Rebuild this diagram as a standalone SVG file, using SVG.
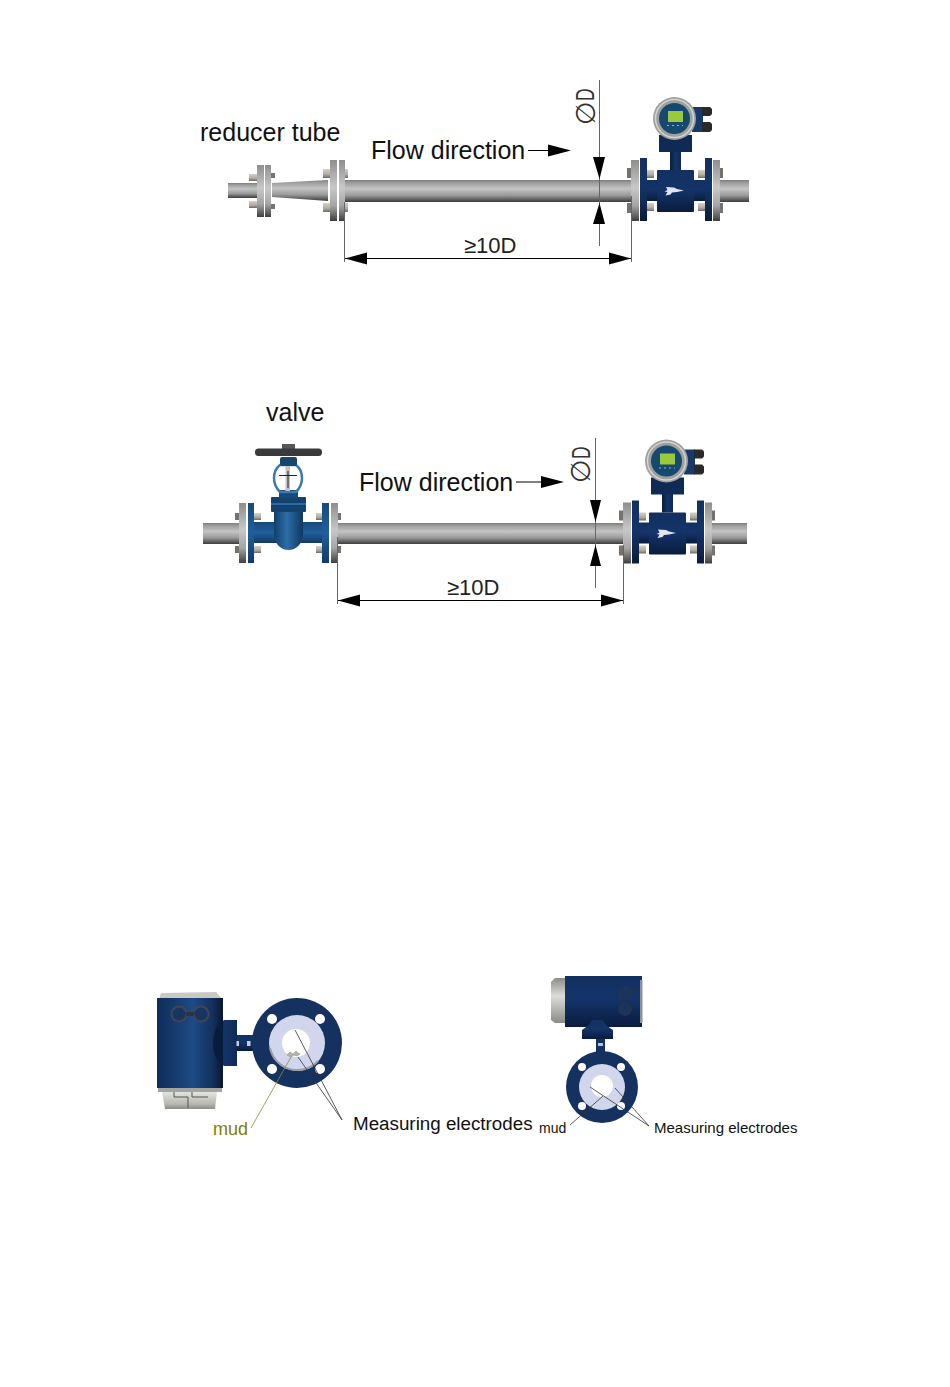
<svg xmlns="http://www.w3.org/2000/svg" xmlns:xlink="http://www.w3.org/1999/xlink" width="950" height="1387" viewBox="0 0 950 1387">
<style>
text{font-family:"Liberation Sans",Arial,sans-serif;fill:#111}
.lbl{font-size:25px}
.dim{font-size:22px;fill:#222}
.sym{font-family:"DejaVu Sans",sans-serif;font-size:27px;fill:#333}
.dd{font-size:25px;fill:#333}
.thin{stroke:#666;stroke-width:1;fill:none}
.blk{stroke:#000;stroke-width:1.200;fill:none}
.head{fill:#000}
.pipe{fill:url(#gPipe)}
.fl{fill:url(#gFl)}
.nb{fill:url(#gNavy)}
.bolt{fill:url(#gBolt)}
.stub{fill:#77726c}
.dk{fill:#2a2a2c}
.vb{fill:url(#gValve)}
</style>
<defs>
<linearGradient id="gPipe" x1="0" y1="0" x2="0" y2="1"><stop offset="0" stop-color="#7c7c7c"/><stop offset=".12" stop-color="#9c9c9c"/><stop offset=".4" stop-color="#c4c4c4"/><stop offset=".7" stop-color="#9a9a9a"/><stop offset="1" stop-color="#3c3c3c"/></linearGradient>
<linearGradient id="gFl" x1="0" y1="0" x2="0" y2="1"><stop offset="0" stop-color="#8e8e8e"/><stop offset=".45" stop-color="#c8c8c8"/><stop offset=".75" stop-color="#a4a4a4"/><stop offset="1" stop-color="#3f3f3f"/></linearGradient>
<linearGradient id="gBolt" x1="0" y1="0" x2="0" y2="1"><stop offset="0" stop-color="#d8d0c4"/><stop offset=".6" stop-color="#b0aaa0"/><stop offset="1" stop-color="#6c6a66"/></linearGradient>
<linearGradient id="gNavy" x1="0" y1="0" x2="0" y2="1"><stop offset="0" stop-color="#12305f"/><stop offset=".45" stop-color="#14346a"/><stop offset="1" stop-color="#0a1c3e"/></linearGradient>
<linearGradient id="gNavyH" x1="0" y1="0" x2="1" y2="0"><stop offset="0" stop-color="#0f2c58"/><stop offset=".55" stop-color="#1e4a86"/><stop offset=".85" stop-color="#12305c"/><stop offset="1" stop-color="#081630"/></linearGradient>
<linearGradient id="gNeck" x1="0" y1="0" x2="1" y2="0"><stop offset="0" stop-color="#0a1c3c"/><stop offset=".5" stop-color="#14346a"/><stop offset="1" stop-color="#0f2a55"/></linearGradient>
<linearGradient id="gValve" x1="0" y1="0" x2="0" y2="1"><stop offset="0" stop-color="#18487a"/><stop offset=".5" stop-color="#1f5f9c"/><stop offset="1" stop-color="#123a66"/></linearGradient>
<linearGradient id="gValveH" x1="0" y1="0" x2="1" y2="0"><stop offset="0" stop-color="#12406c"/><stop offset=".45" stop-color="#2c6ea8"/><stop offset="1" stop-color="#103660"/></linearGradient>
<linearGradient id="gCapV" x1="0" y1="0" x2="0" y2="1"><stop offset="0" stop-color="#e2e2e0"/><stop offset=".7" stop-color="#b8b8b2"/><stop offset="1" stop-color="#8c8c88"/></linearGradient>
<linearGradient id="gCapH" x1="0" y1="0" x2="0" y2="1"><stop offset="0" stop-color="#8c8c88"/><stop offset=".4" stop-color="#dcdcd8"/><stop offset="1" stop-color="#8a8a86"/></linearGradient>

<g id="flangeBolts">
<rect class="bolt" x="0" y="0" width="7" height="8"/>
<rect class="bolt" x="0" y="33" width="7" height="8"/>
</g>

<g id="meter">
<rect class="stub" x="627" y="168" width="5" height="10"/>
<rect class="stub" x="627" y="203" width="5" height="10"/>
<rect class="stub" x="720" y="168" width="3" height="10"/>
<rect class="stub" x="720" y="203" width="3" height="10"/>
<use xlink:href="#flangeBolts" x="647" y="170"/>
<use xlink:href="#flangeBolts" x="698" y="170"/>
<rect class="fl" x="631" y="160" width="8" height="61"/>
<rect class="fl" x="713" y="160" width="7" height="61"/>
<rect class="nb" x="640" y="158" width="7" height="63"/>
<rect class="nb" x="705" y="158" width="7" height="63"/>
<rect class="nb" x="647" y="180" width="58" height="21"/>
<rect class="nb" x="657" y="170" width="37" height="42" rx="1"/>
<path d="M666 187l8 .5 3 1.500 7 1.500-7 1.500-5 .5-1.500 2-5 1 2-3.500-3-.5 3-1.500z" fill="#dfe6f2"/>
<rect x="670" y="150" width="11" height="20" fill="url(#gNeck)"/>
<rect x="659" y="135" width="33" height="17" fill="#0f2a55"/>
<rect x="692" y="107" width="11" height="25" fill="#163a6c"/>
<path d="M702 107h8l2 2v5l-2 2h-8zM702 122h8l2 2v6l-2 2h-8z" class="dk"/>
<circle cx="674.500" cy="118.500" r="21.500" fill="#9ea09e"/>
<circle cx="674.500" cy="118.500" r="19" fill="none" stroke="#d4d4d0" stroke-width="1.500"/>
<circle cx="674.500" cy="118.500" r="15.500" fill="#16496f"/>
<rect x="668" y="111" width="15" height="11" fill="#9ac93e"/>
<path d="M667 125.500h16" stroke="#8fb4c4" stroke-width="1" stroke-dasharray="2 3"/>
</g>
</defs>

<rect width="950" height="1387" fill="#fff"/>

<g id="pipe-top">
<rect class="pipe" x="228" y="183" width="30" height="15"/>
<rect class="pipe" x="345" y="180" width="287" height="22"/>
<rect class="pipe" x="720" y="180" width="29" height="22"/>
</g>

<g id="reducer-tube">
<rect class="bolt" x="249" y="174" width="9" height="7"/>
<rect class="bolt" x="249" y="201" width="9" height="7"/>
<rect class="stub" x="271" y="173" width="4" height="5"/>
<rect class="stub" x="271" y="204" width="4" height="5"/>
<rect class="fl" x="257" y="165" width="7" height="52"/>
<rect class="fl" x="265" y="165" width="6" height="52"/>
<path d="M272 183L328 180V201L272 197Z" class="pipe"/>
<rect class="bolt" x="323" y="169" width="7" height="9"/>
<rect class="bolt" x="323" y="203" width="7" height="9"/>
<rect class="bolt" x="345" y="169" width="3" height="9"/>
<rect class="bolt" x="345" y="203" width="3" height="9"/>
<rect class="fl" x="330" y="160" width="7" height="61"/>
<rect class="fl" x="339" y="160" width="6" height="61"/>
</g>

<g id="meter-top"><use xlink:href="#meter"/></g>

<g id="pipe-mid">
<rect class="pipe" x="203" y="523" width="37" height="21"/>
<rect class="pipe" x="338" y="523" width="286" height="21"/>
<rect class="pipe" x="711" y="523" width="36" height="21"/>
</g>

<g id="valve-node">
<rect class="stub" x="235" y="513" width="4" height="7"/>
<rect class="stub" x="235" y="546" width="4" height="7"/>
<rect class="stub" x="338" y="513" width="3" height="7"/>
<rect class="stub" x="338" y="546" width="3" height="7"/>
<rect class="bolt" x="254" y="513" width="7" height="7"/>
<rect class="bolt" x="254" y="546" width="7" height="7"/>
<rect class="bolt" x="316" y="513" width="6" height="7"/>
<rect class="bolt" x="316" y="546" width="6" height="7"/>
<rect class="fl" x="239" y="503" width="7" height="60"/>
<rect class="fl" x="331" y="503" width="7" height="60"/>
<rect class="vb" x="248" y="503" width="6" height="60"/>
<rect class="vb" x="322" y="503" width="7" height="60"/>
<rect class="vb" x="254" y="522" width="68" height="21"/>
<path d="M274 508H303V533C303 544 296 550 288.500 550C281 550 274 544 274 533Z" fill="url(#gValveH)"/>
<rect x="271" y="497" width="35" height="15" rx="1" fill="#14426e"/>
<rect x="271" y="503" width="35" height="2" fill="#2a6aa0"/>
<rect x="279" y="490" width="19" height="8" fill="#174a7a"/>
<path d="M280 465H296C300 468 302 473 302 478C302 484 299 489 296 492H280C277 489 274 484 274 478C274 473 276 468 280 465Z" fill="none" stroke="#3a7ab0" stroke-width="2.500"/>
<rect x="285.500" y="466" width="4.500" height="25" fill="#c2c2c2"/>
<path d="M279 475.500H297M288 471V488" stroke="#222" stroke-width="1"/>
<rect x="280" y="457" width="17" height="9" rx="2" fill="#17476f"/>
<rect x="282" y="444" width="13" height="6" fill="#55555a"/>
<rect x="255" y="448.500" width="67" height="7.500" rx="3.500" fill="#3a3a3c"/>
</g>

<g id="meter-mid"><use xlink:href="#meter" transform="translate(-8 342.500)"/></g>

<g id="connectors">
<path class="thin" d="M344.500 202V262M631.500 196V262M599.500 80V246"/>
<path class="blk" d="M345 258.500H631M528 150.500H550"/>
<path class="head" d="M345 258.500L367 252.500V264.500ZM631 258.500L609 252.500V264.500ZM593 157H605L599.500 179ZM593 224H605L599.500 203ZM548 144.500L571 150.500L548 156.500Z"/>
<path class="thin" d="M337.500 537V604M623.500 545V604M595.500 438V588"/>
<path class="blk" d="M338 600.500H623M516 482H543"/>
<path class="head" d="M338 600.500L360 594.500V606.500ZM623 600.500L601 594.500V606.500ZM590 500H601L595.500 522ZM590 566H601L595.500 545ZM541 476L564 482L541 488Z"/>
</g>

<g id="labels-top">
<text class="lbl" x="200" y="141">reducer tube</text>
<text class="lbl" x="371" y="159">Flow direction</text>
<text class="dim" x="464" y="253">≥10D</text>
<text class="sym" transform="translate(595 125) rotate(-90)">∅</text>
<text class="dd" transform="translate(594 101) rotate(-90) scale(.7 1)">D</text>
</g>
<g id="labels-mid">
<text class="lbl" x="266" y="421">valve</text>
<text class="lbl" x="359" y="491">Flow direction</text>
<text class="dim" x="447" y="595">≥10D</text>
<text class="sym" transform="translate(590 483) rotate(-90)">∅</text>
<text class="dd" transform="translate(590 459) rotate(-90) scale(.7 1)">D</text>
</g>

<g id="meter-front-left">
<path d="M237 1020H224C216 1026 213 1035 213 1043C213 1052 216 1060 224 1066H237Z" fill="url(#gNeck)"/>
<path d="M159 999L161 993L216 992L222 999Z" fill="#c8c8c4"/>
<rect x="157" y="998" width="66" height="90" fill="url(#gNavyH)"/>
<path d="M213 1043C213 1035 216 1026 223 1020V1066C216 1060 213 1052 213 1043Z" fill="#0a1c3c"/>
<rect x="158" y="1088" width="64" height="4" fill="#a4a4a0"/>
<path d="M162 1092H217L215 1109H165Z" fill="url(#gCapV)"/>
<path d="M174 1092V1097H188V1108M192 1092V1097H208" fill="none" stroke="#55554f" stroke-width="1"/>
<circle cx="179" cy="1014" r="7.500" fill="#1a3460" stroke="#3f4654" stroke-width="2"/>
<circle cx="201" cy="1014" r="7.500" fill="#1a3460" stroke="#3f4654" stroke-width="2"/>
<rect x="186" y="1012" width="8" height="4" fill="#2c3444"/>
<rect x="237" y="1035" width="16" height="16" fill="url(#gNavy)"/>
<rect x="236.500" y="1041" width="2.500" height="5" fill="#c6cedc"/>
<rect x="247" y="1041" width="3.500" height="5" fill="#c6cedc"/>
<circle cx="297" cy="1043" r="45" fill="#15315f"/>
<circle cx="297" cy="1043" r="28" fill="#d2d6ec"/>
<path d="M270 1048A28 28 0 0 0 318 1061" fill="none" stroke="#9a9ca8" stroke-width="2"/>
<circle cx="296" cy="1043" r="14" fill="#fff"/>
<circle cx="272" cy="1019" r="5" fill="#fff"/>
<circle cx="320" cy="1019" r="5" fill="#fff"/>
<circle cx="272" cy="1069" r="5" fill="#fff"/>
<circle cx="320" cy="1069" r="5" fill="#fff"/>
<path d="M287 1055l3-3 3 2 3-3 2 2 2 1-3 2-3-1-3 2z" fill="#b4b4a8" stroke="#8a8a80" stroke-width=".5"/>
<path d="M342 1120L295 1030M342 1120L298 1057" fill="none" stroke="#333" stroke-width=".8"/>
<path d="M291 1057L251 1128" fill="none" stroke="#8a8a3a" stroke-width=".8"/>
<text x="213" y="1135" font-size="18" style="fill:#808000">mud</text>
<text x="353" y="1130" font-size="18.800">Measuring electrodes</text>
</g>

<g id="meter-front-right">
<path d="M565 978H555L551 982V1020L555 1023H565Z" fill="url(#gCapH)"/>
<rect x="565" y="976" width="77" height="51" fill="url(#gNavy)"/>
<rect x="640" y="980" width="2.500" height="43" fill="#8c929c"/>
<circle cx="625" cy="993" r="6" fill="#1a3460" stroke="#2c3444" stroke-width="1.500"/>
<circle cx="625" cy="1009" r="6" fill="#1a3460" stroke="#2c3444" stroke-width="1.500"/>
<path d="M582 1039V1030C586 1027 590 1025 592 1020H603C605 1025 609 1027 613 1030V1039Z" fill="url(#gNavy)"/>
<rect x="596" y="1039" width="9" height="13" fill="#14315f"/>
<rect x="598" y="1043" width="5" height="3" fill="#b8c2d4"/>
<circle cx="602" cy="1087" r="36" fill="#15315f"/>
<circle cx="602" cy="1087" r="23" fill="#d2d6ec"/>
<circle cx="602" cy="1086" r="11" fill="#fff"/>
<circle cx="582" cy="1067" r="4" fill="#fff"/>
<circle cx="621" cy="1067" r="4" fill="#fff"/>
<circle cx="582" cy="1106" r="4" fill="#fff"/>
<circle cx="621" cy="1106" r="4" fill="#fff"/>
<path d="M649 1126L590 1087M649 1126L615 1088" fill="none" stroke="#333" stroke-width=".8"/>
<path d="M570 1125L603 1096" fill="none" stroke="#333" stroke-width=".8"/>
<text x="539" y="1133" font-size="14">mud</text>
<text x="654" y="1133" font-size="15">Measuring electrodes</text>
</g>
</svg>
